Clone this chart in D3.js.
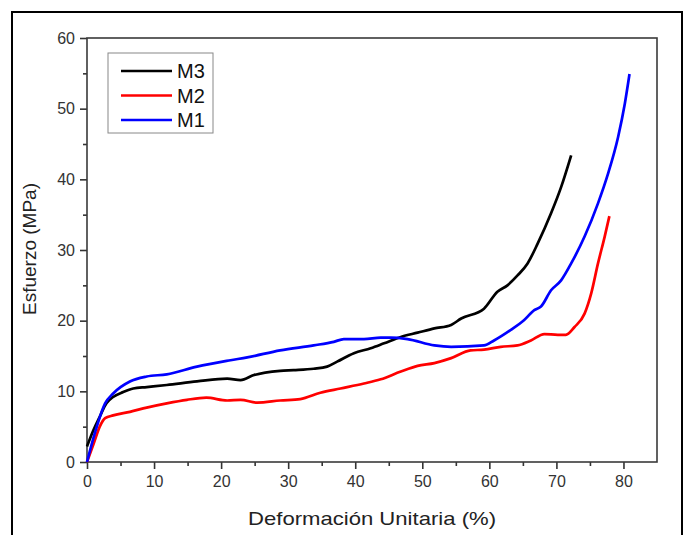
<!DOCTYPE html>
<html><head><meta charset="utf-8">
<script src="https://cdn.jsdelivr.net/npm/d3@7"></script>
<style>body{margin:0;background:#fff}svg{display:block}</style>
</head><body>
<script>
const seriesNames = ["M3", "M2", "M1"];
const seriesColors = ["#000000", "#ff0000", "#0000ff"];
const xTicks = [0, 10, 20, 30, 40, 50, 60, 70, 80];
const yTicks = [0, 10, 20, 30, 40, 50, 60];

const m3x = [0, 0.95, 1.9, 2.9, 3.9, 5.4, 6.9, 8.9, 11.9, 16.4, 20.9, 22.9, 24.9, 28.8, 30.8, 33.8, 35.8, 37.3, 39.8, 42.3, 44.3, 46.8, 49.3, 51.8, 54.3, 55.8, 59.2, 61.2, 62.7, 64.2, 65.7, 67.2, 69.2, 70.7, 72.2];
const m3y = [2.2, 4.5, 6.4, 8.3, 9.2, 9.9, 10.4, 10.6, 10.9, 11.4, 11.8, 11.6, 12.3, 12.9, 13.0, 13.2, 13.5, 14.2, 15.4, 16.1, 16.8, 17.7, 18.3, 18.9, 19.4, 20.3, 21.7, 24.1, 25.0, 26.4, 28.1, 30.9, 35.2, 38.9, 43.4];

const m2x = [0, 1, 1.9, 2.7, 3.9, 6.4, 8.9, 11.9, 14.9, 17.8, 20.9, 22.9, 25.4, 28.8, 31.8, 34.8, 37.8, 41.3, 43.8, 46.8, 49.3, 51.8, 54.3, 57.2, 59.2, 61.7, 64.2, 66.2, 68.2, 70.2, 71.4, 72.7, 74.2, 75.2, 76.2, 77.2, 77.9];
const m2y = [0, 2.6, 5.0, 6.2, 6.6, 7.1, 7.7, 8.3, 8.8, 9.1, 8.7, 8.8, 8.4, 8.7, 8.9, 9.8, 10.4, 11.1, 11.7, 12.8, 13.6, 14.0, 14.7, 15.8, 15.9, 16.3, 16.5, 17.2, 18.1, 18.0, 18.0, 19.1, 21.0, 23.9, 28.1, 31.9, 34.8];

const m1x = [0, 1.2, 2.7, 3.9, 6.4, 8.9, 11.9, 16.4, 21.4, 23.9, 28.8, 33.8, 36.8, 38.3, 41.3, 43.8, 45.3, 47.8, 51.8, 54.3, 59.2, 60.7, 63.2, 65.2, 66.7, 67.7, 69.2, 70.7, 72.2, 74.2, 76.2, 77.7, 79.2, 80.2, 80.9];
const m1y = [0, 4.2, 8.3, 9.7, 11.4, 12.1, 12.4, 13.5, 14.4, 14.8, 15.8, 16.5, 17.0, 17.4, 17.4, 17.6, 17.6, 17.4, 16.5, 16.3, 16.5, 17.2, 18.7, 20.1, 21.5, 22.0, 24.3, 25.7, 28.1, 31.9, 36.6, 40.8, 46.0, 50.7, 54.9];

const series = [
  {name: seriesNames[0], color: seriesColors[0], xs: m3x, ys: m3y},
  {name: seriesNames[1], color: seriesColors[1], xs: m2x, ys: m2y},
  {name: seriesNames[2], color: seriesColors[2], xs: m1x, ys: m1y}
];

const W = 686, H = 535;
const svg = d3.select("body").append("svg").attr("width", W).attr("height", H);
svg.append("rect").attr("width", W).attr("height", H).attr("fill", "#fff");
// outer frame
svg.append("rect").attr("x", 12).attr("y", 12).attr("width", 670).attr("height", 540)
  .attr("fill", "none").attr("stroke", "#000").attr("stroke-width", 2);

const L = 87, R = 657, T = 38, B = 462;
const x = d3.scaleLinear().domain([0, 85]).range([L, R]);
const y = d3.scaleLinear().domain([0, 60]).range([B, T]);

const font = "'Liberation Sans', Arial, sans-serif";

// minor ticks
const xAxisMinor = d3.axisBottom(x).tickValues(d3.range(5, 85, 10)).tickSize(4).tickFormat("");
const yAxisMinor = d3.axisLeft(y).tickValues(d3.range(5, 60, 10)).tickSize(4).tickFormat("");
svg.append("g").attr("transform", `translate(0,${B})`).call(xAxisMinor);
svg.append("g").attr("transform", `translate(${L},0)`).call(yAxisMinor);

const gx = svg.append("g").attr("transform", `translate(0,${B})`)
  .call(d3.axisBottom(x).tickValues(xTicks).tickSize(7).tickPadding(7));
const gy = svg.append("g").attr("transform", `translate(${L},0)`)
  .call(d3.axisLeft(y).tickValues(yTicks).tickSize(7).tickPadding(5));

svg.selectAll(".domain").remove();
svg.selectAll(".tick line").attr("stroke", "#333").attr("stroke-width", 1.6);
svg.selectAll(".tick text").attr("font-family", font).attr("font-size", 16).attr("fill", "#333");

// plot frame
svg.append("rect").attr("x", L).attr("y", T).attr("width", R - L).attr("height", B - T)
  .attr("fill", "none").attr("stroke", "#3a3a3a").attr("stroke-width", 1.6);

const line = d3.line().x(d => x(d[0])).y(d => y(d[1])).curve(d3.curveMonotoneX);
series.forEach(s => {
  const pts = s.xs.map((v, i) => [v, s.ys[i]]);
  svg.append("path").datum(pts).attr("d", line).attr("fill", "none")
    .attr("stroke", s.color).attr("stroke-width", 2.7).attr("stroke-linejoin", "round");
});

// legend
const lg = svg.append("g");
lg.append("rect").attr("x", 108).attr("y", 53).attr("width", 105).attr("height", 80)
  .attr("fill", "#fff").attr("stroke", "#888").attr("stroke-width", 1);
series.forEach((s, i) => {
  const yy = 71 + i * 24.5;
  lg.append("line").attr("x1", 121).attr("x2", 172).attr("y1", yy).attr("y2", yy)
    .attr("stroke", s.color).attr("stroke-width", 2.7);
  lg.append("text").attr("x", 177).attr("y", yy).attr("dy", "0.36em")
    .attr("font-family", font).attr("font-size", 20).attr("fill", "#111").text(s.name);
});

// axis titles
svg.append("text").attr("x", 372).attr("y", 525).attr("text-anchor", "middle")
  .attr("font-family", font).attr("font-size", 19).attr("fill", "#222")
  .attr("textLength", 248).attr("lengthAdjust", "spacingAndGlyphs")
  .text("Deformación Unitaria (%)");
svg.append("text").attr("transform", `translate(36,249) rotate(-90)`).attr("text-anchor", "middle")
  .attr("font-family", font).attr("font-size", 19).attr("fill", "#222").text("Esfuerzo (MPa)");
</script>
</body></html>
